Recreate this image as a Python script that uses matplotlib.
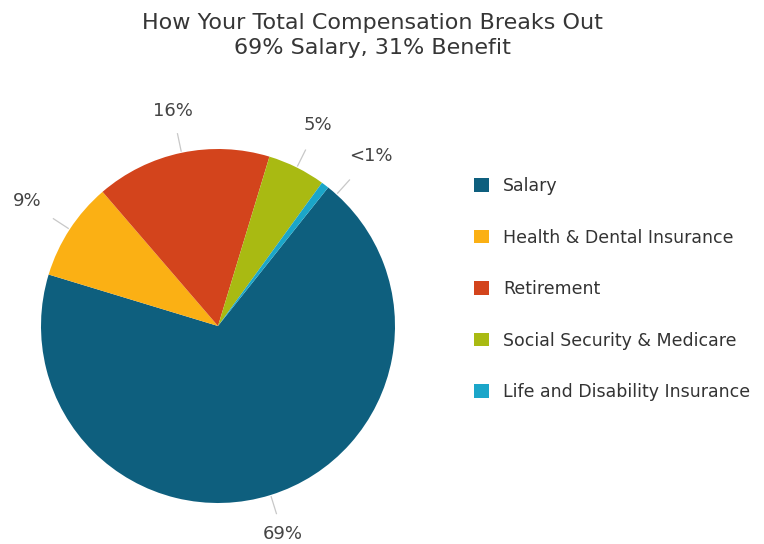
import numpy as np
import matplotlib.pyplot as plt
from matplotlib.patches import Patch

# Compensation breakdown (percent of total)
categories = ['Salary', 'Health & Dental Insurance', 'Retirement',
              'Social Security & Medicare', 'Life and Disability Insurance']
shares = [69.0, 9.0, 16.0, 5.3, 0.7]
pct_labels = ['69%', '9%', '16%', '5%', '<1%']
colors = ['#0e5f7e', '#fbb014', '#d3441c', '#a9ba12', '#1ba6c9']

plt.rcParams['font.family'] = ['DejaVu Sans']

fig = plt.figure(figsize=(7.64, 5.44), dpi=100)
W, H = 764, 544
cx, cy, r = 218, 326, 177
ax = fig.add_axes([(cx - r) / W, (H - cy - r) / H, 2 * r / W, 2 * r / H])

wedges, _ = ax.pie(shares, colors=colors, startangle=51.5, counterclock=False,
                   radius=1.0, wedgeprops=dict(linewidth=0))
ax.set_xlim(-1, 1)
ax.set_ylim(-1, 1)
ax.set_aspect('equal')
ax.axis('off')

# percentage labels with short leader lines
label_r = [1.23, 1.29, 1.24, 1.27, 1.29]
for w, lab, lr in zip(wedges, pct_labels, label_r):
    ang = np.deg2rad((w.theta1 + w.theta2) / 2)
    if lab == '<1%':
        ang = np.deg2rad(w.theta1 - 3.5)
    ux, uy = np.cos(ang), np.sin(ang)
    ax.plot([1.01 * ux, 1.11 * ux], [1.01 * uy, 1.11 * uy], color='#c8c8c8',
            lw=0.9, clip_on=False)
    ax.text(lr * ux, lr * uy, lab, ha='center', va='center', fontsize=13,
            color='#444444', clip_on=False)

fig.text(372 / W, 1 - 23 / H, 'How Your Total Compensation Breaks Out',
         ha='center', va='center', fontsize=16, color='#363636')
fig.text(372 / W, 1 - 48 / H, '69% Salary, 31% Benefit',
         ha='center', va='center', fontsize=16, color='#363636')

handles = [Patch(facecolor=c, edgecolor='none') for c in colors]
fig.legend(handles, categories, loc='upper left',
           bbox_to_anchor=(474 / W, 1 - 177 / H), frameon=False,
           borderpad=0, borderaxespad=0,
           fontsize=12.5, handlelength=0.86, handleheight=0.86,
           handletextpad=0.8, labelspacing=1.93, labelcolor='#333333')

fig.savefig('out.png', dpi=100)
